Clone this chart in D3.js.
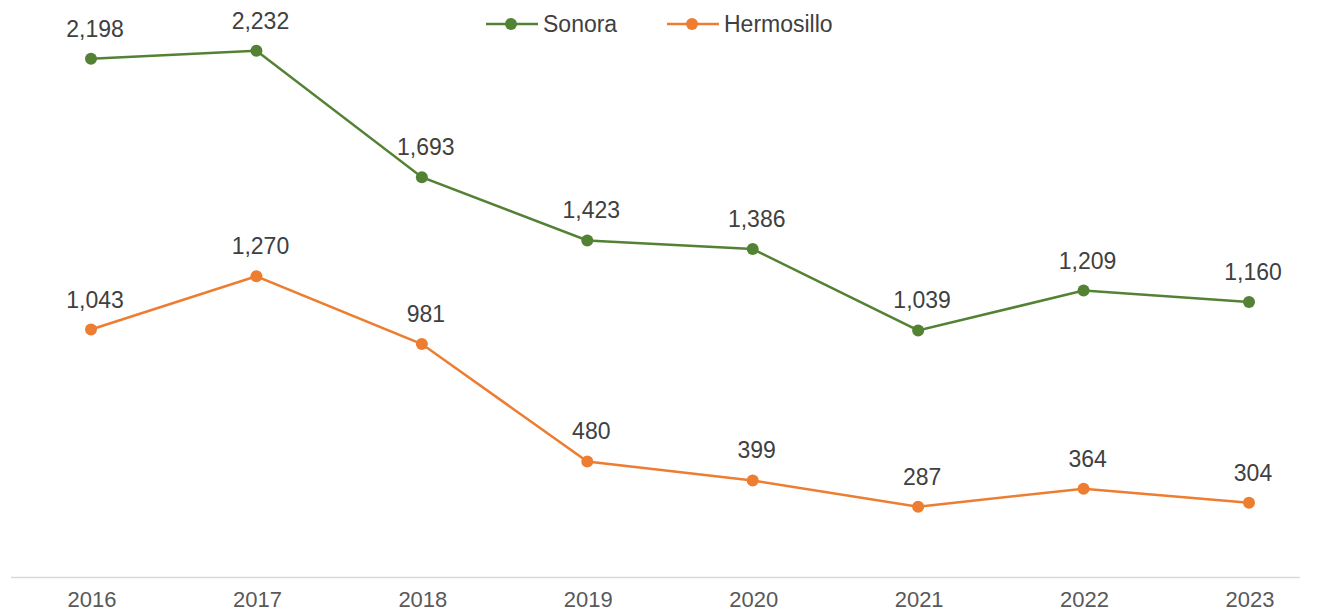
<!DOCTYPE html>
<html><head><meta charset="utf-8">
<script src="https://cdn.jsdelivr.net/npm/d3@7"></script>
<style>body{margin:0;background:#fff;}svg{display:block;font-family:"Liberation Sans",Arial,sans-serif;}</style>
</head><body>
<svg id="c" width="1331" height="613"></svg>
<script>
const years = ["2016","2017","2018","2019","2020","2021","2022","2023"];
const sonora = [2198,2232,1693,1423,1386,1039,1209,1160];
const hermosillo = [1043,1270,981,480,399,287,364,304];
const seriesNames = ["Sonora","Hermosillo"];
const colors = ["#548235","#ED7D31"];

const svg = d3.select("#c");
const x = d3.scalePoint().domain(years).range([91,1249]);
const y = d3.scaleLinear().domain([0,2400]).range([574,11.4]);
const fmt = d3.format(",");

svg.append("line").attr("x1",11).attr("x2",1300).attr("y1",577.5).attr("y2",577.5)
  .attr("stroke","#d9d9d9").attr("stroke-width",1.5);
svg.selectAll("text.yr").data(years).enter().append("text")
  .attr("x",d=>x(d)+1).attr("y",607).attr("text-anchor","middle")
  .attr("font-size",22).attr("fill","#595959").text(d=>d);

const data = [sonora, hermosillo];
const line = d3.line().x((d,i)=>x(years[i])).y(d=>y(d));
data.forEach((vals,k)=>{
  const g = svg.append("g");
  g.append("path").attr("d",line(vals)).attr("fill","none")
    .attr("stroke",colors[k]).attr("stroke-width",2.5);
  g.selectAll("circle").data(vals).enter().append("circle")
    .attr("cx",(d,i)=>x(years[i])).attr("cy",d=>y(d)).attr("r",6).attr("fill",colors[k]);
  g.selectAll("text").data(vals).enter().append("text")
    .attr("x",(d,i)=>x(years[i])+4).attr("y",d=>y(d)-22).attr("text-anchor","middle")
    .attr("font-size",23).attr("fill","#404040").text(d=>fmt(d));
});

const legX = [486,667];
seriesNames.forEach((n,k)=>{
  const g = svg.append("g").attr("transform",`translate(${legX[k]},24)`);
  g.append("line").attr("x1",0).attr("x2",52).attr("stroke",colors[k]).attr("stroke-width",2.5);
  g.append("circle").attr("cx",25).attr("r",6).attr("fill",colors[k]);
  g.append("text").attr("x",57).attr("y",8).attr("font-size",23).attr("fill","#404040").text(n);
});
</script>
</body></html>
